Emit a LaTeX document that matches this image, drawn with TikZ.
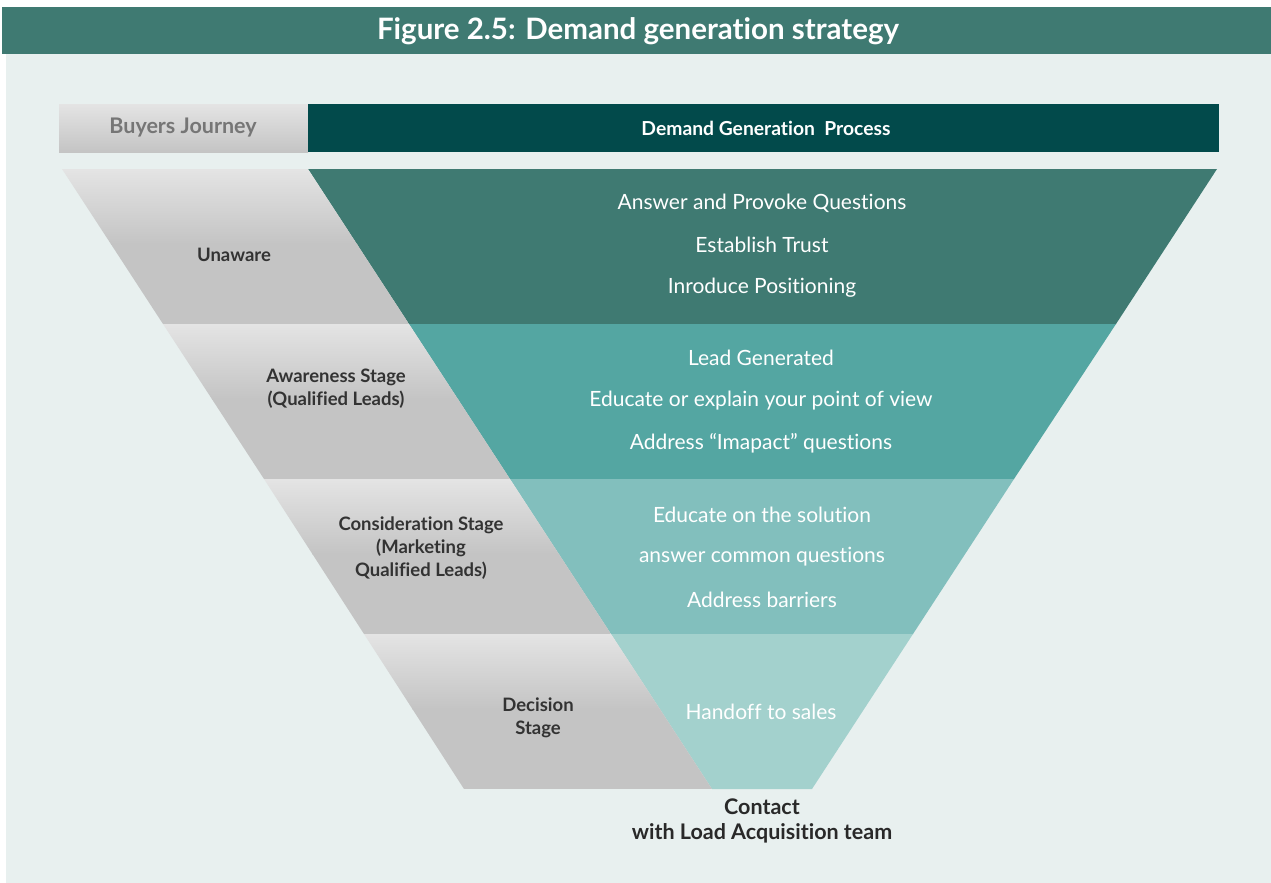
\documentclass[tikz,border=0pt]{standalone}
\usepackage{fontspec}
\setmainfont{Lato}[Ligatures=NoCommon]
\begin{document}
\begin{tikzpicture}[x=1pt,y=-1pt,
  lbl/.style={font=\bfseries\fontsize{18.5}{23}\selectfont, text=labelc, align=center},
  wtxt/.style={font=\fontsize{21}{24}\selectfont, text=white},
  ]
\definecolor{bgc}{HTML}{E8F0EF}
\definecolor{banner}{HTML}{3F7A72}
\definecolor{hdark}{HTML}{024A4B}
\definecolor{t1}{HTML}{3F7A72}
\definecolor{t2}{HTML}{54A6A2}
\definecolor{t3}{HTML}{82BFBD}
\definecolor{t4}{HTML}{A3D1CD}
\definecolor{gtop}{HTML}{E4E4E4}
\definecolor{gbot}{HTML}{C4C4C4}
\definecolor{labelc}{HTML}{333333}
\definecolor{bjc}{HTML}{767676}
\useasboundingbox (0,0) rectangle (1271,883);
\fill[white] (0,0) rectangle (1271,883);
\fill[bgc] (6,7) rectangle (1271,883);
\fill[banner] (2,7) rectangle (1271,54);
\node[font=\bfseries\fontsize{29.5}{32}\selectfont, text=white] (title) at (638,31.5) {Figure 2.5: Demand generation strategy};
% header
\shade[top color=gtop,bottom color=gbot] (59,104) rectangle (308,152);
\fill[hdark] (308,104) rectangle (1219,152);
\node[font=\bfseries\fontsize{21.5}{24}\selectfont, text=bjc] (bj) at (183,128) {Buyers Journey};
\node[font=\bfseries\fontsize{19.3}{22}\selectfont, text=white] (dgp) at (766,128.5) {Demand Generation\ \ Process};
% teal funnel bands
\fill[t1] (308,169) -- (1217,169) -- (1116,324) -- (409,324) -- cycle;
\fill[t2] (409,324) -- (1116,324) -- (1014,479) -- (510,479) -- cycle;
\fill[t3] (510,479) -- (1014,479) -- (913,634) -- (611,634) -- cycle;
\fill[t4] (611,634) -- (913,634) -- (812,789) -- (712,789) -- cycle;
% gray bands
\foreach \ya/\yb/\xa/\xb/\xc/\xd in {169/324/62/308/409/163, 324/479/163/409/510/264, 479/634/264/510/611/364, 634/789/364/611/712/464}{
  \begin{scope}
    \clip (\xa,\ya) -- (\xb,\ya) -- (\xc,\yb) -- (\xd,\yb) -- cycle;
    \shade[top color=gtop,bottom color=gbot] (\xa,\ya) rectangle (\xc,\ya+75);
    \fill[gbot] (\xa,\ya+74.5) rectangle (\xc,\yb);
  \end{scope}
}
% gray labels
\node[lbl] (unaware) at (234,255) {Unaware};
\node[lbl] (aware) at (336,389) {Awareness Stage\\(Qualified Leads)};
\node[lbl] (consid) at (421,548) {Consideration Stage\\(Marketing\\Qualified Leads)};
\node[lbl] (decis) at (538,718) {Decision\\Stage};
% teal texts
\node[wtxt] (a1) at (762,203) {Answer and Provoke Questions};
\node[wtxt] (a2) at (762,245) {Establish Trust};
\node[wtxt] (a3) at (762,288) {Inroduce Positioning};
\node[wtxt] (b1) at (761,358) {Lead Generated};
\node[wtxt] (b2) at (761,401) {Educate or explain your point of view};
\node[wtxt] (b3) at (761,443) {Address “Imapact” questions};
\node[wtxt] (c1) at (762,515) {Educate on the solution};
\node[wtxt] (c2) at (762,557) {answer common questions};
\node[wtxt] (c3) at (762,600) {Address barriers};
\node[wtxt] (d1) at (761,712) {Handoff to sales};
% bottom
\node[font=\bfseries\fontsize{21.5}{25}\selectfont, text=labelc!80!black, align=center] (contact) at (762,821) {Contact\\with Load Acquisition team};
\end{tikzpicture}
\end{document}
